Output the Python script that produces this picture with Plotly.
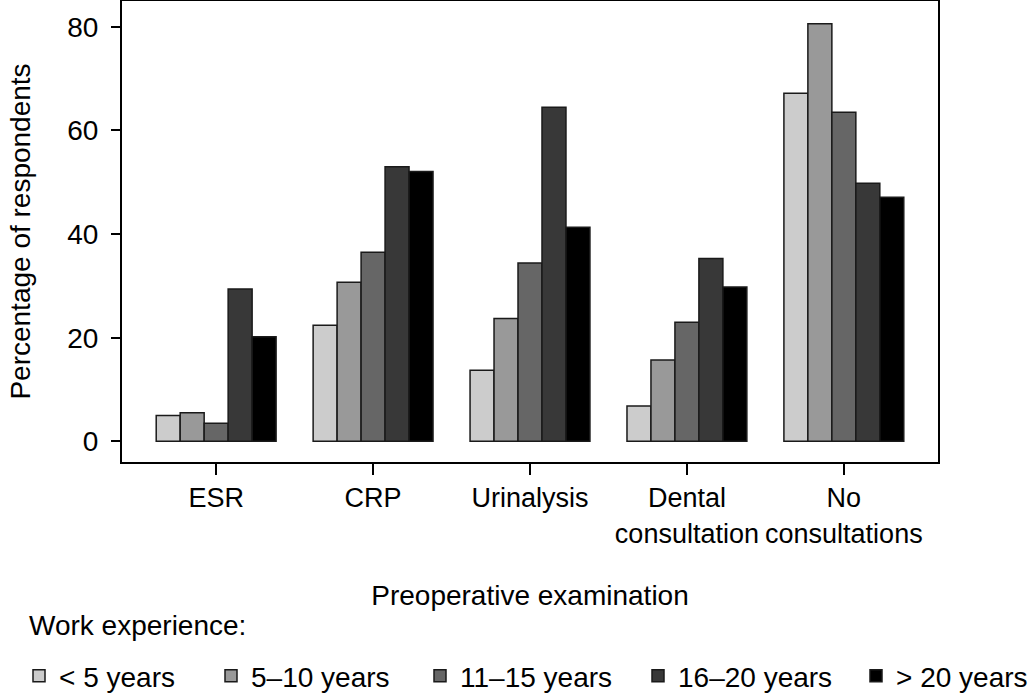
import plotly.graph_objects as go

categories = ["ESR", "CRP", "Urinalysis", "Dental<br>consultation", "No<br>consultations"]
series_names = ["< 5 years", "5–10 years", "11–15 years", "16–20 years", "> 20 years"]
lt5 = [5.0, 22.4, 13.7, 6.8, 67.2]
y5_10 = [5.5, 30.7, 23.7, 15.7, 80.6]
y11_15 = [3.5, 36.5, 34.4, 23.0, 63.5]
y16_20 = [29.4, 53.0, 64.5, 35.3, 49.8]
gt20 = [20.2, 52.1, 41.3, 29.8, 47.1]
series_values = [lt5, y5_10, y11_15, y16_20, gt20]
colors = ["#cccccc", "#999999", "#666666", "#383838", "#000000"]
y_ticks = [0, 20, 40, 60, 80]
legend_title = "Work experience:"

FONT = "Liberation Sans, Arial, sans-serif"
FS = 28

# plot area in pixels: x 122..938, y 1..462
L, R, T, B = 122, 92, 1, 233
PW, PH = 1030 - L - R, 695 - T - B

def px2x(px):
    return (px - L) / PW

def py2y(py):
    return (695 - B - py) / PH

legend_left_px = [19, 211, 420, 638, 856]
legend_ids = ["legend", "legend2", "legend3", "legend4", "legend5"]

fig = go.Figure()
for i, (name, vals, col) in enumerate(zip(series_names, series_values, colors)):
    fig.add_trace(go.Bar(
        x=categories, y=vals, name=name, legend=legend_ids[i],
        marker=dict(color=col, line=dict(color="#1a1a1a", width=1.5)),
    ))

layout_legends = {}
for i, lid in enumerate(legend_ids):
    layout_legends[lid] = dict(
        orientation="h", xanchor="left", yanchor="middle",
        x=px2x(legend_left_px[i]),
        y=py2y(676),
        font=dict(size=FS, family=FONT, color="black"),
        itemclick=False, itemdoubleclick=False,
        bgcolor="rgba(0,0,0,0)", borderwidth=0,
    )

fig.update_layout(
    width=1030, height=695,
    margin=dict(l=L, r=R, t=T, b=B, autoexpand=False),
    paper_bgcolor="white", plot_bgcolor="white",
    font=dict(family=FONT, size=FS, color="black"),
    barmode="group", bargap=0.236, bargroupgap=0,
    showlegend=True,
    **layout_legends,
)
fig.add_annotation(
    text=legend_title, xref="paper", yref="paper",
    x=px2x(27), y=py2y(625), xanchor="left", yanchor="middle",
    showarrow=False, font=dict(size=FS, family=FONT, color="black"),
)
fig.update_xaxes(
    range=[-0.6, 4.6], showline=True, linecolor="black", linewidth=2, mirror=True,
    ticks="outside", ticklen=11, tickwidth=2, tickcolor="black", tickangle=0,
    tickfont=dict(size=27),
    showgrid=False, zeroline=False, automargin=False,
    title=dict(text="Preoperative examination", standoff=38, font=dict(size=FS)),
)
fig.update_yaxes(
    range=[-4, 85], tickvals=y_ticks, showline=True, linecolor="black", linewidth=2, mirror=True,
    ticks="outside", ticklen=9, tickwidth=2, tickcolor="black",
    showgrid=False, zeroline=False, ticklabelstandoff=7, automargin=False,
    title=dict(text="Percentage of respondents", standoff=28, font=dict(size=FS)),
)
fig.write_html(
    "out.html",
    config={"displayModeBar": False},
    post_script="document.body.style.margin='0';",
)
